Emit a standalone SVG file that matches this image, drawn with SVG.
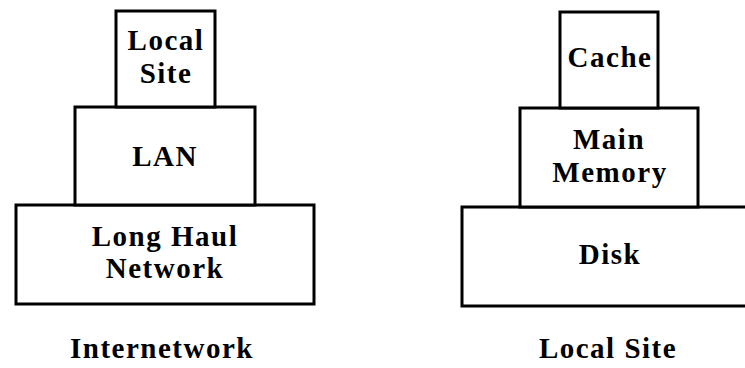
<svg xmlns="http://www.w3.org/2000/svg" width="745" height="368" viewBox="0 0 745 368">
<style>
.box{fill:#fff;stroke:#000;stroke-width:3;stroke-linejoin:miter}
.t{font-family:"Liberation Serif","Times New Roman",serif;font-weight:bold;font-size:29px;letter-spacing:1.5px;fill:#000;text-anchor:middle}
</style>
<rect width="745" height="368" fill="#fff"/>
<g id="connectors"></g>
<g id="long-haul-network">
<rect class="box" x="16" y="205" width="298" height="99"/>
<text class="t" x="165" y="245.5">Long Haul</text>
<text class="t" x="165" y="278">Network</text>
</g>
<g id="lan">
<rect class="box" x="75" y="107" width="180" height="98"/>
<text class="t" x="165" y="166">LAN</text>
</g>
<g id="local-site-box">
<rect class="box" x="116" y="11" width="99" height="96"/>
<text class="t" x="166" y="50">Local</text>
<text class="t" x="166" y="82.5">Site</text>
</g>
<g id="internetwork-label">
<text class="t" x="162" y="358">Internetwork</text>
</g>
<g id="disk">
<rect class="box" x="462" y="207" width="290" height="99"/>
<text class="t" x="610" y="264">Disk</text>
</g>
<g id="main-memory">
<rect class="box" x="520" y="108" width="178" height="99"/>
<text class="t" x="609" y="149">Main</text>
<text class="t" x="610" y="181.5">Memory</text>
</g>
<g id="cache">
<rect class="box" x="560" y="12" width="98" height="96"/>
<text class="t" x="610" y="67">Cache</text>
</g>
<g id="local-site-label">
<text class="t" x="608" y="358">Local Site</text>
</g>
</svg>
